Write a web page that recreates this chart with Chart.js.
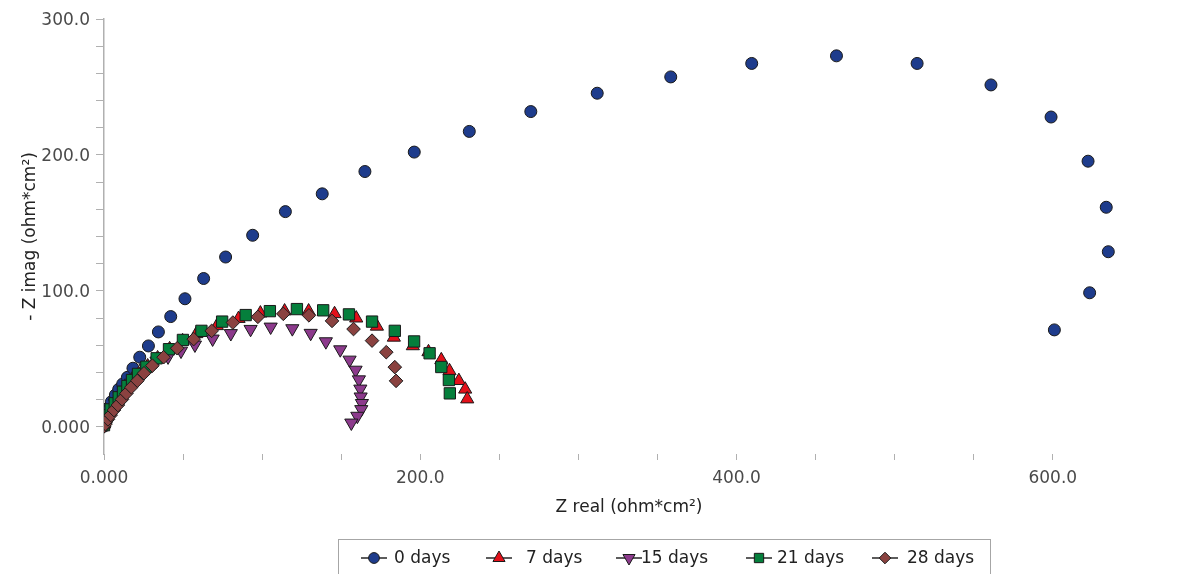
<!DOCTYPE html>
<html>
<head>
<meta charset="utf-8">
<script src="https://cdn.jsdelivr.net/npm/chart.js@4.4.1/dist/chart.umd.min.js"></script>
<style>
html,body{margin:0;padding:0;background:#fff;}
#wrap{width:1200px;height:574px;position:relative;overflow:hidden;}
</style>
</head>
<body>
<div id="wrap"><canvas id="c" width="1200" height="574"></canvas></div>
<script>
// ---------- DATA ----------
const seriesNames = ['0 days', '7 days', '15 days', '21 days', '28 days'];

const day0Re = [0.0, 0.1, 0.2, 0.9, 2.5, 4.7, 7.2, 9.3, 11.8, 14.8, 18.3, 22.6, 28.1, 34.4, 42.2, 51.2, 63.0, 76.9, 94.0, 114.7, 138.0, 165.0, 196.2, 231.0, 269.9, 311.9, 358.4, 409.6, 463.2, 514.2, 560.9, 598.9, 622.3, 633.8, 635.1, 623.3, 601.0];
const day0Im = [0.5, 2.2, 4.2, 8.6, 13.6, 18.4, 23.4, 27.6, 31.5, 36.4, 43.1, 51.2, 59.5, 69.8, 81.1, 94.2, 109.1, 124.9, 140.9, 158.3, 171.4, 187.8, 202.1, 217.3, 231.9, 245.4, 257.4, 267.3, 272.9, 267.3, 251.5, 227.9, 195.4, 161.5, 128.8, 98.6, 71.3];

const day7Re = [0.1, 1.1, 3.0, 4.9, 7.4, 10.6, 13.7, 17.5, 21.9, 27.6, 33.9, 41.5, 49.7, 58.4, 71.4, 85.1, 98.9, 114.2, 129.4, 145.8, 159.5, 172.6, 183.3, 195.3, 205.2, 213.3, 218.5, 224.4, 228.4, 229.7];
const day7Im = [2.0, 5.7, 10.1, 14.5, 18.9, 24.1, 28.5, 33.7, 38.9, 44.7, 50.6, 57.3, 63.2, 68.4, 74.3, 79.6, 83.6, 85.1, 85.1, 83.1, 79.9, 73.9, 65.8, 59.5, 55.1, 49.2, 41.1, 33.9, 27.6, 20.4];

const day15Re = [0.1, 1.1, 2.3, 4.2, 6.8, 9.9, 13.1, 16.9, 21.3, 26.3, 33.2, 40.5, 48.7, 57.5, 68.7, 80.2, 92.7, 105.4, 119.1, 130.7, 140.3, 149.4, 155.3, 159.1, 161.2, 162.1, 162.3, 163.1, 162.7, 160.2, 156.4];
const day15Im = [1.3, 4.9, 8.6, 13.1, 17.5, 22.6, 27.0, 32.2, 37.4, 43.3, 48.5, 51.5, 55.8, 60.3, 64.7, 68.7, 71.8, 73.5, 72.3, 68.9, 62.7, 56.8, 49.2, 41.8, 34.7, 27.9, 22.1, 17.3, 12.8, 7.9, 2.9];

const day21Re = [0.0, 0.4, 2.1, 4.2, 6.8, 9.3, 12.0, 14.8, 17.7, 21.5, 26.8, 33.3, 41.1, 49.9, 61.6, 74.7, 89.6, 104.9, 122.0, 138.6, 154.9, 169.5, 183.9, 196.1, 205.9, 213.3, 218.1, 218.7];
const day21Im = [1.2, 4.9, 8.6, 12.8, 17.3, 21.7, 25.8, 30.0, 34.4, 38.9, 44.2, 50.4, 57.1, 63.9, 70.6, 77.4, 82.2, 85.1, 86.6, 85.7, 82.7, 77.4, 70.6, 62.8, 54.1, 44.0, 34.4, 24.6];

const day28Re = [0.0, 0.9, 2.5, 4.2, 6.3, 8.8, 11.4, 14.2, 17.3, 21.1, 25.3, 30.6, 37.7, 46.3, 56.7, 68.1, 81.5, 97.3, 113.4, 129.6, 144.2, 157.8, 169.5, 178.5, 183.9, 184.7];
const day28Im = [0.3, 2.0, 5.5, 8.6, 12.3, 16.0, 20.2, 24.6, 29.1, 33.9, 39.4, 45.0, 51.2, 57.8, 64.5, 70.6, 76.7, 80.9, 83.1, 82.0, 77.9, 71.9, 63.4, 54.9, 43.9, 33.8];

const xTickLabels = {0: '0.000', 200: '200.0', 400: '400.0', 600: '600.0'};
const yTickLabels = {0: '0.000', 100: '100.0', 200: '200.0', 300: '300.0'};
const xTitle = 'Z real (ohm*cm²)';
const yTitle = '- Z imag (ohm*cm²)';
// ------------------------------------------------------------

const FONT = 'DejaVu Sans';
const pts = (re, im) => re.map((v, i) => ({x: v, y: im[i]}));

const styles = [
  {bg: '#1e3c8c', style: 'circle',   r: 6.0, rot: 0,   lr: 5.4},
  {bg: '#e3101a', style: 'triangle', r: 7.6, rot: 0,   lr: 7.0},
  {bg: '#8c3a8c', style: 'triangle', r: 7.6, rot: 180, lr: 7.0},
  {bg: '#057f3c', style: 'rect',     r: 8.0, rot: 0,   lr: 6.6},
  {bg: '#8a4240', style: 'rectRot',  r: 6.8, rot: 0,   lr: 5.8}
];
const seriesData = [pts(day0Re, day0Im), pts(day7Re, day7Im), pts(day15Re, day15Im), pts(day21Re, day21Im), pts(day28Re, day28Im)];

const datasets = seriesNames.map((name, i) => ({
  label: name,
  data: seriesData[i],
  backgroundColor: styles[i].bg,
  borderColor: '#1a1a1a',
  borderWidth: 1,
  pointStyle: styles[i].style,
  pointRadius: styles[i].r,
  pointRotation: styles[i].rot,
  pointHoverRadius: styles[i].r,
  showLine: false,
  order: seriesNames.length - i
}));

function drawMarker(ctx, st, x, y, r) {
  ctx.save();
  ctx.translate(x, y);
  ctx.rotate(st.rot * Math.PI / 180);
  ctx.beginPath();
  if (st.style === 'circle') {
    ctx.arc(0, 0, r, 0, Math.PI * 2);
  } else if (st.style === 'triangle') {
    ctx.moveTo(0, -r);
    ctx.lineTo(r * Math.cos(Math.PI / 6), r * 0.5);
    ctx.lineTo(-r * Math.cos(Math.PI / 6), r * 0.5);
  } else if (st.style === 'rect') {
    const s = r * Math.SQRT1_2;
    ctx.rect(-s, -s, 2 * s, 2 * s);
  } else if (st.style === 'rectRot') {
    ctx.moveTo(0, -r); ctx.lineTo(r, 0); ctx.lineTo(0, r); ctx.lineTo(-r, 0);
  }
  ctx.closePath();
  ctx.fill();
  ctx.stroke();
  ctx.restore();
}

const legendPlugin = {
  id: 'boxLegend',
  afterDraw(chart) {
    const ctx = chart.ctx;
    ctx.save();
    ctx.strokeStyle = '#a6a6a6';
    ctx.lineWidth = 1;
    ctx.strokeRect(338.5, 539.5, 652, 60);
    const markerX = [374, 499, 629, 759, 885];
    const textX = [394, 526, 641, 777, 907];
    const cy = 558;
    chart.data.datasets.forEach((ds, i) => {
      const cx = markerX[i];
      ctx.strokeStyle = '#262626';
      ctx.lineWidth = 1.5;
      ctx.beginPath();
      ctx.moveTo(cx - 13, cy); ctx.lineTo(cx + 13, cy);
      ctx.stroke();
      ctx.fillStyle = styles[i].bg;
      ctx.strokeStyle = '#1a1a1a';
      ctx.lineWidth = 1;
      drawMarker(ctx, styles[i], cx, cy, styles[i].lr);
      ctx.fillStyle = '#222';
      ctx.font = '17px "' + FONT + '"';
      ctx.textAlign = 'left';
      ctx.textBaseline = 'middle';
      ctx.fillText(ds.label, textX[i], cy + 1);
    });
    ctx.restore();
  }
};

new Chart(document.getElementById('c'), {
  type: 'scatter',
  data: {datasets},
  plugins: [legendPlugin],
  options: {
    responsive: false,
    animation: false,
    devicePixelRatio: 1,
    layout: {padding: {top: 19, right: 46, bottom: 0, left: 0}},
    plugins: {legend: {display: false}, tooltip: {enabled: false}},
    scales: {
      x: {
        type: 'linear',
        position: 'bottom',
        min: 0,
        max: 664,
        afterFit(s) { s.height = 120; },
        afterBuildTicks(s) { s.ticks = s.ticks.filter(t => t.value % 50 === 0); },
        ticks: {
          stepSize: 50, autoSkip: false, maxRotation: 0, padding: 8,
          color: '#4a4a4a', font: {family: FONT, size: 17},
          callback: v => (xTickLabels[v] !== undefined ? xTickLabels[v] : '')
        },
        grid: {drawOnChartArea: false, drawTicks: true, tickLength: 6, color: '#b0b0b0', lineWidth: 1},
        border: {display: false},
        title: {display: true, text: xTitle, color: '#222', font: {family: FONT, size: 17}, padding: {top: 0, bottom: 56}}
      },
      y: {
        type: 'linear',
        min: -20,
        max: 300,
        afterFit(s) { s.width = 104; },
        afterBuildTicks(s) { s.ticks = s.ticks.filter(t => t.value >= 0); },
        ticks: {
          stepSize: 20, autoSkip: false, padding: 6, labelOffset: 2,
          color: '#4a4a4a', font: {family: FONT, size: 17},
          callback: v => (yTickLabels[v] !== undefined ? yTickLabels[v] : '')
        },
        grid: {drawOnChartArea: false, drawTicks: true, tickLength: 8, color: '#b0b0b0', lineWidth: 1},
        border: {display: true, color: '#b0b0b0', width: 1.5},
        title: {display: true, text: yTitle, color: '#222', font: {family: FONT, size: 17}, padding: {top: 20, bottom: 0}}
      }
    }
  }
});
</script>
</body>
</html>
